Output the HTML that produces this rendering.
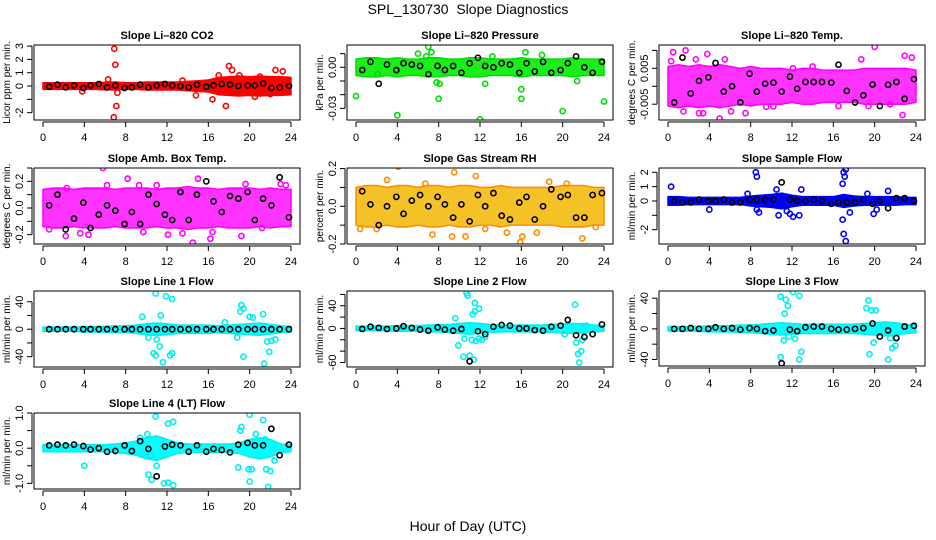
<!DOCTYPE html>
<html><head><meta charset="utf-8"><style>
html,body{margin:0;padding:0;background:#fff;}
svg{display:block;font-family:"Liberation Sans",sans-serif;}
</style></head><body>
<svg id="chart" width="936" height="540" viewBox="0 0 936 540" xmlns="http://www.w3.org/2000/svg">
<text x="468" y="14" text-anchor="middle" font-size="14">SPL_130730&#160; Slope Diagnostics</text>
<text x="468" y="531" text-anchor="middle" font-size="14">Hour of Day (UTC)</text>
</svg>
<script>
// ---- data ----
const xTicks = [0,4,8,12,16,20,24];
const bandHours = [0,1,2,3,4,5,6,7,8,9,10,11,12,13,14,15,16,17,18,19,20,21,22,23,24];
const blackHours = [0.6,1.4,2.2,3.0,3.9,4.6,5.4,6.2,7.0,7.9,8.6,9.4,10.2,11.0,11.8,12.5,13.3,14.1,14.9,15.8,16.5,17.3,18.1,18.9,19.8,20.5,21.3,22.1,22.9,23.8];

const co2Band = [0.25,0.25,0.25,0.25,0.25,0.25,0.28,0.3,0.25,0.25,0.3,0.3,0.3,0.3,0.35,0.4,0.45,0.65,0.7,0.75,0.7,0.75,0.7,0.7,0.65];
const co2Black = [-0.05,0.1,-0.1,0.05,-0.15,0.05,0.15,-0.1,0.05,-0.15,-0.1,0.1,-0.1,0.05,0.15,0.05,0,-0.1,0.1,-0.05,0.05,0.15,0.1,0,0.05,0.05,0.2,-0.15,-0.1,0];
const co2Out = [[6.9,2.8],[7.0,1.6],[7.1,-1.5],[6.85,-2.35],[7.2,-0.5],[6.3,0.5],[18,1.5],[18.3,1.2],[17.7,-1.5],[16.4,-1.0],[22.5,1.2],[23.2,1.1],[20.5,-0.8],[14.8,-0.7],[19,0.8],[21,0.7],[3.8,-0.4],[13.5,0.4],[17,0.8],[22,-0.6]];

const presBand = [0.006,0.007,0.007,0.006,0.007,0.006,0.006,0.007,0.007,0.006,0.006,0.007,0.007,0.006,0.006,0.006,0.007,0.006,0.006,0.006,0.006,0.007,0.006,0.006,0.006];
const presBlack = [-0.002,0.004,-0.012,0.002,-0.002,0.003,0.002,0.001,-0.005,0.001,-0.002,0.001,-0.004,0.003,0.007,0.001,0,0.003,0.002,-0.004,0.003,-0.003,0.004,-0.004,-0.002,0.003,0.008,0,-0.004,0.004];
const presOut = [[0,-0.021],[4,-0.035],[12,-0.038],[16,-0.023],[20,-0.032],[24,-0.025],[7,0.015],[7.3,0.011],[6.8,0.008],[6,0.01],[8.1,-0.012],[7.8,-0.011],[8,-0.023],[12.5,-0.012],[16,-0.016],[16.4,0.011],[21.4,-0.01],[2.1,-0.005],[13.2,0.008],[18,0.009]];

const tempBand = [0.0055,0.006,0.0055,0.006,0.0055,0.006,0.0055,0.005,0.0055,0.005,0.005,0.005,0.0045,0.005,0.005,0.0045,0.0045,0.0045,0.0045,0.005,0.005,0.005,0.005,0.005,0.0045];
const tempBlack = [-0.0045,0.008,-0.002,0.0015,0.0025,0.0065,-0.0015,0,-0.0045,0.0035,-0.0015,0.0007,0.001,-0.0015,0.0027,-0.0007,0.0012,0.0012,0.0012,0.001,0.006,-0.0013,-0.0045,-0.0025,0.0005,-0.0055,0.0004,0.0012,-0.0035,0.002];
const tempOut = [[0.5,0.0095],[0.3,0.007],[1.7,0.01],[2.7,0.0075],[3.8,0.009],[5,-0.009],[5.5,0.0075],[6.1,-0.007],[7.5,-0.0075],[3,-0.0075],[3.4,-0.0075],[1.5,-0.007],[20,0.011],[22.7,-0.008],[22.9,0.0085],[23.6,0.008],[18.7,0.0075],[9.5,-0.0057],[10.2,-0.0056],[12.1,0.005],[14,0.0055],[16.5,-0.0055],[19.4,-0.0055],[21.5,-0.005]];

const ambBand = [0.14,0.15,0.15,0.14,0.15,0.15,0.15,0.14,0.15,0.15,0.15,0.14,0.15,0.15,0.16,0.15,0.15,0.14,0.15,0.15,0.15,0.14,0.15,0.14,0.14];
const ambBlack = [0.02,0.1,-0.16,-0.08,0.04,-0.15,-0.05,0.02,-0.02,-0.12,-0.03,-0.12,0.1,0.03,-0.05,-0.09,0.12,-0.09,0.1,0.2,0.05,-0.03,0.09,0.07,0.12,-0.09,0.07,0.02,0.23,-0.07];
const ambOut = [[5.8,0.3],[8.2,0.22],[15,0.22],[0.6,-0.16],[2.2,-0.21],[3.6,-0.19],[4.4,-0.2],[9.7,-0.18],[12.1,-0.2],[13.5,-0.19],[14.5,-0.26],[16.2,-0.23],[19.2,-0.21],[23.5,0.17],[23,0.18],[19.6,0.18],[6.2,0.17],[9.3,0.17],[2.3,0.15],[16.4,-0.18],[11,0.17],[21.2,-0.15]];

const rhBand = [0.1,0.11,0.11,0.1,0.11,0.11,0.1,0.11,0.11,0.1,0.11,0.11,0.1,0.1,0.11,0.1,0.1,0.1,0.1,0.1,0.11,0.11,0.11,0.1,0.1];
const rhBlack = [0.08,0.01,-0.1,0,0.05,-0.04,0.03,0.06,0,0.05,0.01,-0.06,0.01,-0.08,0.06,0,0.07,-0.05,-0.07,0.02,0.05,-0.07,0,0.09,0.05,0.06,-0.06,-0.06,0.06,0.07];
const rhOut = [[4.1,0.21],[9.5,0.18],[11.6,0.16],[21.2,0.22],[3,0.14],[9.3,-0.16],[7.4,-0.15],[10.6,-0.16],[15.9,-0.19],[16.1,-0.16],[21.9,-0.17],[0.4,-0.12],[14.6,-0.14],[18.7,0.13],[20.4,0.12],[12.5,-0.12],[2,-0.12],[6.7,0.12],[17.5,-0.14],[23.2,-0.11]];

const flowBand = [0.3,0.3,0.25,0.25,0.25,0.25,0.25,0.25,0.35,0.4,0.45,0.55,0.4,0.3,0.3,0.3,0.3,0.45,0.35,0.3,0.3,0.3,0.3,0.25,0.25];
const flowBlack = [0,-0.1,-0.1,0.1,0,0,0.1,-0.1,-0.1,0.1,0.1,0.1,0.1,1.3,0.1,0,0,0.1,0,-0.2,-0.1,-0.1,-0.1,0.1,-0.2,0,-0.5,0.2,0.2,0];
const flowOut = [[0.3,1.0],[8.5,2.0],[8.6,1.7],[8.6,-0.6],[8.8,-0.8],[10.7,-1.0],[11.5,-0.7],[11.8,-0.9],[12.1,-1.1],[12.7,-1.0],[12.9,0.8],[10.5,0.8],[17,2.0],[17.1,1.7],[16.9,1.2],[17.2,2.2],[16.9,-1.3],[17.0,-2.3],[17.2,-2.8],[17.6,-0.8],[4,-0.6],[19.9,-0.9],[20.2,-0.6],[21.3,0.7],[7.7,0.5],[19.3,0.5]];

const line1Band = [3,3,3,3,4,4,4,5,5,6,8,9,8,6,6,6,6,5,6,7,8,9,7,5,4];
const line1Black = [0,0,0,0,0,0,0,0,0,0,0,0,0,0,0,0,0,0,0,0,0,0,0,0,0,0,0,0,0,0];
const line1Out = [[10.9,52],[11.9,48],[12.5,44],[11.4,20],[9.6,18],[10.7,-35],[10.9,-38],[11.6,-48],[11.3,-25],[12.3,-38],[12.5,-35],[11,-15],[19.2,35],[19.4,30],[19.1,26],[20,18],[20.3,17],[21.3,22],[19.4,-40],[18.8,-12],[21.4,-50],[21.7,-18],[22.1,-17],[22.5,-15],[21.9,-33],[10.2,-12],[17.6,10]];

const line2Band = [4,4,4,4,5,5,5,6,6,7,9,10,9,7,6,6,6,6,6,7,8,9,8,6,5];
const line2Black = [-1,3,1,-1,0,4,1,-2,-4,2,-2,-4,-1,-58,-5,-10,3,6,5,0,0,-3,-4,3,5,15,-12,-15,-10,7];
const line2Out = [[10.7,62],[10.8,58],[11.5,45],[11.9,35],[11.5,30],[11.3,25],[9.6,18],[10.5,-18],[11.2,-20],[11.6,-22],[11.9,-18],[12.2,-20],[12.5,-15],[10.4,-50],[11,-48],[11.4,-55],[9.9,-30],[21.2,42],[21.3,-25],[21.5,-45],[21.6,-60],[21.8,-40],[21.9,-20],[22.3,5],[20.2,-10]];

const line3Band = [3,3,3,3,4,4,4,5,5,6,7,8,7,6,6,6,6,6,6,7,8,9,8,6,5];
const line3Black = [0,0,1,0,0,2,0,1,-1,1,0,-3,-2,-45,-1,-3,2,3,3,0,-1,-1,0,1,7,-10,-2,-12,3,4];
const line3Out = [[10.9,42],[11.4,38],[11.6,30],[11.3,20],[12.1,48],[12.7,43],[10.9,-37],[12.7,-40],[12.9,-30],[11.2,-15],[11.7,-10],[12.3,-13],[19.4,37],[19.2,27],[19.7,24],[20.1,24],[19.5,-33],[19.9,-18],[21.3,-40],[21.7,-25],[22,-22],[21.5,-12],[20.8,5]];

const line4Band = [0.1,0.1,0.1,0.1,0.1,0.1,0.1,0.12,0.15,0.2,0.3,0.35,0.25,0.15,0.12,0.12,0.12,0.12,0.12,0.15,0.25,0.3,0.25,0.12,0.1];
const line4Black = [0.08,0.1,0.08,0.1,0.06,-0.04,0.0,-0.1,-0.08,0.08,-0.08,0.2,-0.02,-0.8,0.05,0.1,0.08,-0.1,0.08,-0.1,-0.02,-0.05,-0.12,0.1,0.15,0.08,0.08,0.55,-0.2,0.1];
const line4Out = [[10.9,0.9],[12.1,0.7],[12.6,0.75],[10.2,-0.75],[10.5,-0.9],[11.7,-1.0],[12.1,-0.98],[12.6,-1.05],[10.4,-0.2],[11,-0.5],[4,-0.5],[19.2,0.6],[19.1,0.5],[20,0.95],[21.3,0.8],[20.6,0.4],[19.9,-0.6],[20.2,-0.6],[20,-0.95],[21.6,-0.6],[21.8,-1.1],[22,-0.65],[22.4,-0.35],[18.9,-0.55],[9.4,0.3],[10.1,0.4],[21.5,0.25]];

// ---- layout ----
const NS = 'http://www.w3.org/2000/svg';
const svg = document.getElementById('chart');
function mk(tag, attrs, parent) {
  const e = document.createElementNS(NS, tag);
  for (const k in attrs) e.setAttribute(k, attrs[k]);
  (parent || svg).appendChild(e);
  return e;
}
const panels = [
  {key:'co2', title:'Slope Li\u2013820 CO2', ylab:'Licor ppm per min.', L:34, T:45, B:120, vTop:3.08, vBot:-2.55, ticks:[-2,-1,0,1,2,3], labels:[[-2,'-2'],[0,'0'],[1,'1'],[2,'2'],[3,'3']], col:'#ff0000', fill:'#ff0000', op:1, band:co2Band, black:co2Black, out:co2Out},
  {key:'pressure', title:'Slope Li\u2013820 Pressure', ylab:'kPa per min.', L:347, T:45, B:120, vTop:0.0163, vBot:-0.0385, ticks:[0.01,0,-0.01,-0.02,-0.03], labels:[[0,'0.00'],[-0.03,'-0.03']], col:'#00dd00', fill:'#00ee00', op:0.9, band:presBand, black:presBlack, out:presOut},
  {key:'temp', title:'Slope Li\u2013820 Temp.', ylab:'degrees C per min.', L:659, T:45, B:120, vTop:0.0115, vBot:-0.0094, ticks:[0.01,0.005,0,-0.005], labels:[[0.005,'0.005'],[-0.005,'-0.005']], col:'#ff00ff', fill:'#ff00ff', op:0.8, band:tempBand, black:tempBlack, out:tempOut},
  {key:'amb-temp', title:'Slope Amb. Box Temp.', ylab:'degrees C per min.', L:34, T:168, B:244, vTop:0.30, vBot:-0.27, ticks:[0.3,0.2,0.1,0,-0.1,-0.2], labels:[[0.2,'0.2'],[0,'0.0'],[-0.2,'-0.2']], col:'#ff00ff', fill:'#ff00ff', op:0.8, band:ambBand, black:ambBlack, out:ambOut},
  {key:'rh', title:'Slope Gas Stream RH', ylab:'percent per min.', L:347, T:168, B:244, vTop:0.203, vBot:-0.2, ticks:[0.2,0.1,0,-0.1,-0.2], labels:[[0.2,'0.2'],[0,'0.0'],[-0.2,'-0.2']], col:'#ff8c00', fill:'#f2b600', op:0.85, band:rhBand, black:rhBlack, out:rhOut},
  {key:'sample-flow', title:'Slope Sample Flow', ylab:'ml/min per min.', L:659, T:168, B:244, vTop:2.3, vBot:-3.0, ticks:[2,1,0,-1,-2], labels:[[2,'2'],[1,'1'],[0,'0'],[-2,'-2']], col:'#0000ff', fill:'#0000ff', op:1, band:flowBand, black:flowBlack, out:flowOut},
  {key:'line1', title:'Slope Line 1 Flow', ylab:'ml/min per min.', L:34, T:291, B:367, vTop:55.6, vBot:-55, ticks:[40,20,0,-20,-40], labels:[[40,'40'],[0,'0'],[-40,'-40']], col:'#00eeee', fill:'#00ffff', op:1, band:line1Band, black:line1Black, out:line1Out},
  {key:'line2', title:'Slope Line 2 Flow', ylab:'ml/min per min.', L:347, T:291, B:367, vTop:66, vBot:-68, ticks:[60,40,20,0,-20,-40,-60], labels:[[40,'40'],[0,'0'],[-60,'-60']], col:'#00eeee', fill:'#00ffff', op:1, band:line2Band, black:line2Black, out:line2Out},
  {key:'line3', title:'Slope Line 3 Flow', ylab:'ml/min per min.', L:659, T:291, B:366, vTop:49.4, vBot:-48.5, ticks:[40,20,0,-20,-40], labels:[[40,'40'],[0,'0'],[-40,'-40']], col:'#00eeee', fill:'#00ffff', op:1, band:line3Band, black:line3Black, out:line3Out},
  {key:'line4', title:'Slope Line 4 (LT) Flow', ylab:'ml/min per min.', L:34, T:413, B:489, vTop:1.0, vBot:-1.16, ticks:[1,0.5,0,-0.5,-1], labels:[[1,'1.0'],[0,'0.0'],[-1,'-1.0']], col:'#00eeee', fill:'#00ffff', op:1, band:line4Band, black:line4Black, out:line4Out}
];
const W = 266;

panels.forEach(p => {
  const g = mk('g', {});
  
  
  const xs = h => p.L + 9 + h * (248 / 24);
  const ys = v => p.T + (p.vTop - v) / (p.vTop - p.vBot) * (p.B - p.T);
  const clipId = 'clip-' + p.key;
  const cp = mk('clipPath', {id: clipId}, g);
  mk('rect', {x:p.L, y:p.T, width:W, height:p.B - p.T}, cp);
  const plot = mk('g', {'clip-path':'url(#' + clipId + ')'}, g);
  
  

  let up = [], dn = [];
  bandHours.forEach((h, i) => { up.push(xs(h) + ',' + ys(p.band[i])); dn.unshift(xs(h) + ',' + ys(-p.band[i])); });
  const band = mk('polygon', {points: up.concat(dn).join(' '), fill: p.fill, 'fill-opacity': p.op, stroke: p.col, 'stroke-width': 1.5, 'stroke-linejoin':'round'}, plot);
  
  

  p.out.forEach(o => {
    const c = mk('circle', {cx: xs(o[0]), cy: ys(o[1]), r: 2.6, fill: 'none', stroke: p.col, 'stroke-width': 1.6}, plot);
    
    
  });
  blackHours.forEach((h, i) => {
    const c = mk('circle', {cx: xs(h), cy: ys(p.black[i]), r: 2.6, fill: 'none', stroke: '#000', 'stroke-width': 1.6}, plot);
    
    
  });

  const box = mk('rect', {x:p.L, y:p.T, width:W, height:p.B - p.T, fill:'none', stroke:'#000', 'stroke-width':1}, g);
  
  

  const t = mk('text', {x: p.L + W / 2, y: p.T - 6, 'text-anchor':'middle', 'font-size':11, 'font-weight':'bold'}, g);
  t.textContent = p.title;
  
  

  const xa = mk('g', {}, g);
  
  
  const ay = p.B + 2;
  mk('line', {x1: xs(0), x2: xs(24), y1: ay, y2: ay, stroke:'#000'}, xa);
  xTicks.forEach(v => {
    mk('line', {x1: xs(v), x2: xs(v), y1: ay, y2: ay + 5, stroke:'#000'}, xa);
    const tl = mk('text', {x: xs(v), y: ay + 19, 'text-anchor':'middle', 'font-size':11}, xa);
    tl.textContent = String(v);
    
    
  });

  const ya = mk('g', {}, g);
  
  
  const ax = p.L - 2;
  const tv = p.ticks.map(ys);
  mk('line', {x1: ax, x2: ax, y1: Math.min(...tv), y2: Math.max(...tv), stroke:'#000'}, ya);
  p.ticks.forEach(v => mk('line', {x1: ax - 5, x2: ax, y1: ys(v), y2: ys(v), stroke:'#000'}, ya));
  p.labels.forEach(lb => {
    const tx = ax - 9, ty = ys(lb[0]);
    const tl = mk('text', {x: tx, y: ty, 'text-anchor':'middle', 'font-size':11, transform: 'rotate(-90 ' + tx + ' ' + ty + ')'}, ya);
    tl.textContent = lb[1];
    
    
  });
  const lx = p.L - 24, ly = (p.T + p.B) / 2;
  const yl = mk('text', {x: lx, y: ly, 'text-anchor':'middle', 'font-size':10, transform: 'rotate(-90 ' + lx + ' ' + ly + ')'}, g);
  yl.textContent = p.ylab;
  
  
});
</script>
</body></html>
